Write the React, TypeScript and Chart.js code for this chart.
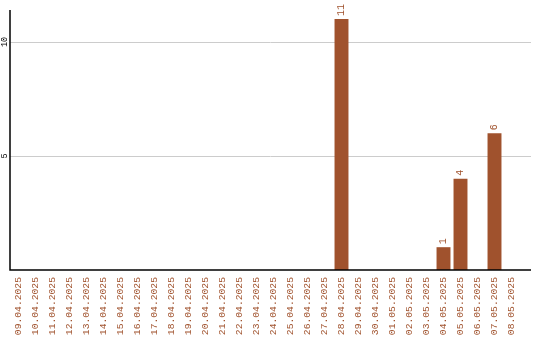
import React, { useEffect, useRef } from "react";
import { Chart, registerables } from "chart.js";

Chart.register(...registerables);

// Daily counts, 09.04.2025 – 08.05.2025
const dates: string[] = [
  "09.04.2025", "10.04.2025", "11.04.2025", "12.04.2025", "13.04.2025",
  "14.04.2025", "15.04.2025", "16.04.2025", "17.04.2025", "18.04.2025",
  "19.04.2025", "20.04.2025", "21.04.2025", "22.04.2025", "23.04.2025",
  "24.04.2025", "25.04.2025", "26.04.2025", "27.04.2025", "28.04.2025",
  "29.04.2025", "30.04.2025", "01.05.2025", "02.05.2025", "03.05.2025",
  "04.05.2025", "05.05.2025", "06.05.2025", "07.05.2025", "08.05.2025",
];
const counts: number[] = [
  0, 0, 0, 0, 0, 0, 0, 0, 0, 0,
  0, 0, 0, 0, 0, 0, 0, 0, 0, 11,
  0, 0, 0, 0, 0, 1, 4, 0, 6, 0,
];
const yTicks: number[] = [5, 10];
const yMax = 11.4;

const BROWN = "#a0522d";
const MONO = '"Liberation Mono", "DejaVu Sans Mono", monospace';
const AXIS_OVERHANG = 11;

// Grid lines, axis lines, rotated y tick labels and value labels.
const decorations = {
  id: "decorations",
  beforeDatasetsDraw(chart: any) {
    const { ctx, chartArea } = chart;
    const y = chart.scales.y;
    ctx.save();
    ctx.strokeStyle = "#cccccc";
    ctx.lineWidth = 1;
    for (const v of yTicks) {
      const py = Math.round(y.getPixelForValue(v)) + 0.5;
      ctx.beginPath();
      ctx.moveTo(chartArea.left, py);
      ctx.lineTo(chartArea.right + AXIS_OVERHANG, py);
      ctx.stroke();
    }
    ctx.restore();
  },
  afterDatasetsDraw(chart: any) {
    const { ctx, chartArea } = chart;
    const y = chart.scales.y;
    ctx.save();

    // axes
    ctx.strokeStyle = "#000";
    ctx.lineWidth = 1.5;
    ctx.beginPath();
    ctx.moveTo(chartArea.left, chartArea.top);
    ctx.lineTo(chartArea.left, chartArea.bottom);
    ctx.lineTo(chartArea.right + AXIS_OVERHANG, chartArea.bottom);
    ctx.stroke();

    // y tick labels, rotated
    ctx.fillStyle = "#000";
    ctx.font = `8.5px ${MONO}`;
    ctx.textAlign = "center";
    ctx.textBaseline = "middle";
    for (const v of yTicks) {
      const py = y.getPixelForValue(v);
      ctx.save();
      ctx.translate(chartArea.left - 5, py);
      ctx.rotate(-Math.PI / 2);
      ctx.fillText(String(v), 0, 0);
      ctx.restore();
    }

    // value labels above the bars
    const meta = chart.getDatasetMeta(0);
    ctx.fillStyle = BROWN;
    ctx.font = `10px ${MONO}`;
    ctx.textAlign = "left";
    ctx.textBaseline = "middle";
    meta.data.forEach((bar: any, i: number) => {
      const v = counts[i];
      if (!v) return;
      ctx.save();
      ctx.translate(bar.x, bar.y - 3);
      ctx.rotate(-Math.PI / 2);
      ctx.fillText(String(v), 0, 0);
      ctx.restore();
    });
    ctx.restore();
  },
};

export default function App() {
  const canvasRef = useRef<HTMLCanvasElement | null>(null);

  useEffect(() => {
    document.body.style.margin = "0";
    const canvas = canvasRef.current;
    if (!canvas) return;
    const chart = new Chart(canvas, {
      type: "bar",
      data: {
        labels: dates,
        datasets: [
          {
            data: counts,
            backgroundColor: BROWN,
            borderWidth: 0,
            barPercentage: 0.82,
            categoryPercentage: 1,
          },
        ],
      },
      options: {
        animation: false,
        responsive: false,
        maintainAspectRatio: false,
        layout: { padding: { left: 10, right: 20, top: 10, bottom: 3 } },
        plugins: {
          legend: { display: false },
          tooltip: { enabled: false },
        },
        scales: {
          x: {
            grid: { display: false, drawTicks: false },
            border: { display: false },
            afterFit: (scale: any) => {
              scale.height = 67;
            },
            ticks: {
              color: BROWN,
              font: { family: MONO, size: 9.7 },
              minRotation: 90,
              maxRotation: 90,
              autoSkip: false,
              padding: 7,
            },
          },
          y: {
            min: 0,
            max: yMax,
            grid: { display: false, drawTicks: false },
            border: { display: false },
            ticks: { display: false },
          },
        },
      },
      plugins: [decorations],
    });
    return () => chart.destroy();
  }, []);

  return (
    <div style={{ position: "absolute", left: 0, top: 0, width: 540, height: 340, background: "#fff" }}>
      <canvas ref={canvasRef} width={540} height={340} />
    </div>
  );
}
